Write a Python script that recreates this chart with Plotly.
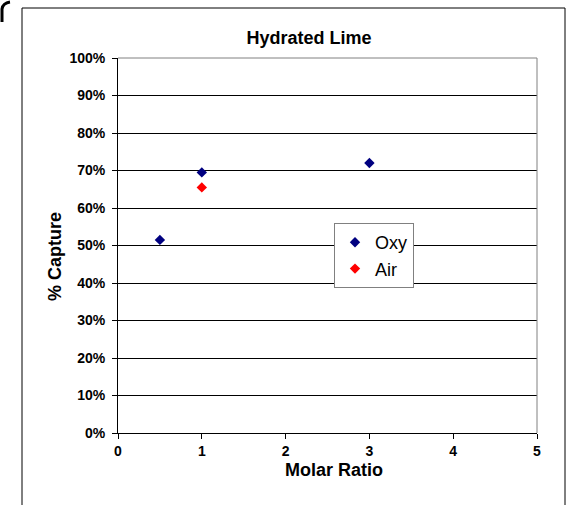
import plotly.graph_objects as go

oxy_x = [0.5, 1, 3]
oxy_y = [51.5, 69.5, 72.0]
air_x = [1]
air_y = [65.5]
y_ticks = [0, 10, 20, 30, 40, 50, 60, 70, 80, 90, 100]
y_labels = [f"{v}%" for v in y_ticks]
x_ticks = [0, 1, 2, 3, 4, 5]

W, H = 567, 505
L, R, T, B = 118, 30, 58, 72
pw, ph = W - L - R, H - T - B

def px(x):
    return (x - L) / pw

def py(y):
    return (H - B - y) / ph

fig = go.Figure()
fig.add_trace(go.Scatter(x=oxy_x, y=oxy_y, mode="markers", name="Oxy",
                         marker=dict(symbol="diamond", size=8, color="#000080")))
fig.add_trace(go.Scatter(x=air_x, y=air_y, mode="markers", name="Air",
                         marker=dict(symbol="diamond", size=8, color="#FF0000")))

font = "Liberation Sans, Arial, sans-serif"
fig.update_layout(
    width=W, height=H,
    margin=dict(l=L, r=R, t=T, b=B),
    paper_bgcolor="white", plot_bgcolor="white",
    font=dict(family=font, color="black"),
    title=dict(text="<b>Hydrated Lime</b>", font=dict(size=18, family=font),
               x=309 / W, xanchor="center", y=1 - 38 / H, yanchor="middle"),
    showlegend=True,
    legend=dict(x=px(334), y=py(223), xanchor="left", yanchor="top",
                bgcolor="white", bordercolor="#808080", borderwidth=1,
                font=dict(size=18, family=font), itemwidth=30,
                tracegroupgap=0),
    xaxis=dict(range=[0, 5], tickvals=x_ticks, ticks="outside", ticklen=5,
               tickwidth=1, tickcolor="black", showline=True, linecolor="black",
               linewidth=1, showgrid=False, zeroline=False,
               tickfont=dict(size=14, family=font, weight="bold")),
    yaxis=dict(range=[0, 100], tickvals=y_ticks, ticktext=y_labels, ticks="outside",
               ticklen=5, tickwidth=1, tickcolor="black", showline=True,
               linecolor="black", linewidth=1, showgrid=True, gridcolor="black",
               gridwidth=1, zeroline=False, ticklabelstandoff=4,
               tickfont=dict(size=14, family=font, weight="bold")),
    annotations=[
        dict(text="<b>Molar Ratio</b>", xref="paper", yref="paper",
             x=px(334), y=py(470), xanchor="center", yanchor="middle",
             showarrow=False, font=dict(size=18, family=font)),
        dict(text="<b>% Capture</b>", xref="paper", yref="paper",
             x=px(55), y=py(256), xanchor="center", yanchor="middle",
             textangle=-90, showarrow=False, font=dict(size=18, family=font)),
    ],
)

shapes = [
    # plot area right / top border (gray)
    dict(type="line", xref="paper", yref="paper", x0=1, x1=1, y0=0, y1=1,
         line=dict(color="#808080", width=1)),
    dict(type="line", xref="paper", yref="paper", x0=0, x1=1, y0=1, y1=1,
         line=dict(color="#808080", width=1)),
    # outer chart frame
    dict(type="rect", xref="paper", yref="paper", x0=px(22), x1=px(565),
         y0=py(530), y1=py(8), line=dict(color="black", width=1),
         fillcolor="rgba(0,0,0,0)", layer="below"),
    # top-left corner artifact
    dict(type="path", xref="paper", yref="paper",
         path=f"M {px(2)} {py(22)} L {px(2)} {py(9)} Q {px(3)} {py(3)} {px(10)} {py(2)}",
         line=dict(color="black", width=3)),
]
fig.update_layout(shapes=shapes)

fig.write_html("out.html")
